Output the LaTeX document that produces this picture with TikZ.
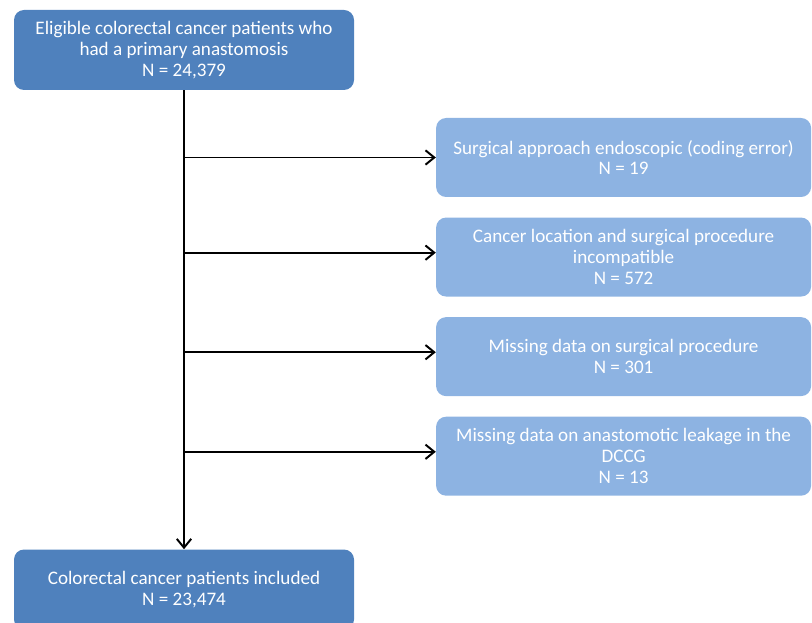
\documentclass[tikz,border=0pt]{standalone}
\usepackage{fontspec}
\setmainfont{Carlito}
\usetikzlibrary{positioning,arrows.meta}
\definecolor{darkbox}{HTML}{4F81BD}
\definecolor{lightbox}{HTML}{8DB3E2}
\begin{document}
\begin{tikzpicture}
[node distance = 0.5cm, auto,
% STYLES
every node/.style={font=\fontsize{13.6}{14.8}\selectfont, text=white, align=center},
% main boxes of the flow
mainbox/.style={rectangle, rounded corners=0.25cm, fill=darkbox, minimum width=8.5cm, minimum height=2cm},
% excluded patients
excluded/.style={rectangle, rounded corners=0.25cm, fill=lightbox, minimum width=9.375cm, minimum height=1.975cm},
flow/.style={line width=1.4pt, -{Straight Barb[length=2.2mm, width=3.6mm, line width=1.4pt]}}]

\useasboundingbox (0,0) rectangle (20.3,15.55);

% Draw boxes
\node [mainbox] (eligible) at (4.6,14.3) {Eligible colorectal cancer patients who\\ had a primary anastomosis\\ N = 24,379};
\node [excluded] (coding) at (15.59,11.6125) {Surgical approach endoscopic (coding error)\\ N = 19};
\node [excluded, below=of coding] (location) {Cancer location and surgical procedure\\ incompatible\\ N = 572};
\node [excluded, below=of location] (procedure) {Missing data on surgical procedure\\ N = 301};
\node [excluded, below=of procedure] (leakage) {Missing data on anastomotic leakage in the\\ DCCG\\ N = 13};
\node [mainbox] (included) at (4.6,0.8125) {Colorectal cancer patients included\\ N = 23,474};

% Draw arrows
\draw [flow] (eligible) -- (included);
\draw [flow] (eligible.south |- coding.west) -- (coding.west);
\draw [flow] ([yshift=0.11cm]eligible.south |- location.west) -- ([yshift=0.11cm]location.west);
\draw [flow] ([yshift=0.11cm]eligible.south |- procedure.west) -- ([yshift=0.11cm]procedure.west);
\draw [flow] ([yshift=0.11cm]eligible.south |- leakage.west) -- ([yshift=0.11cm]leakage.west);

\end{tikzpicture}
\end{document}
